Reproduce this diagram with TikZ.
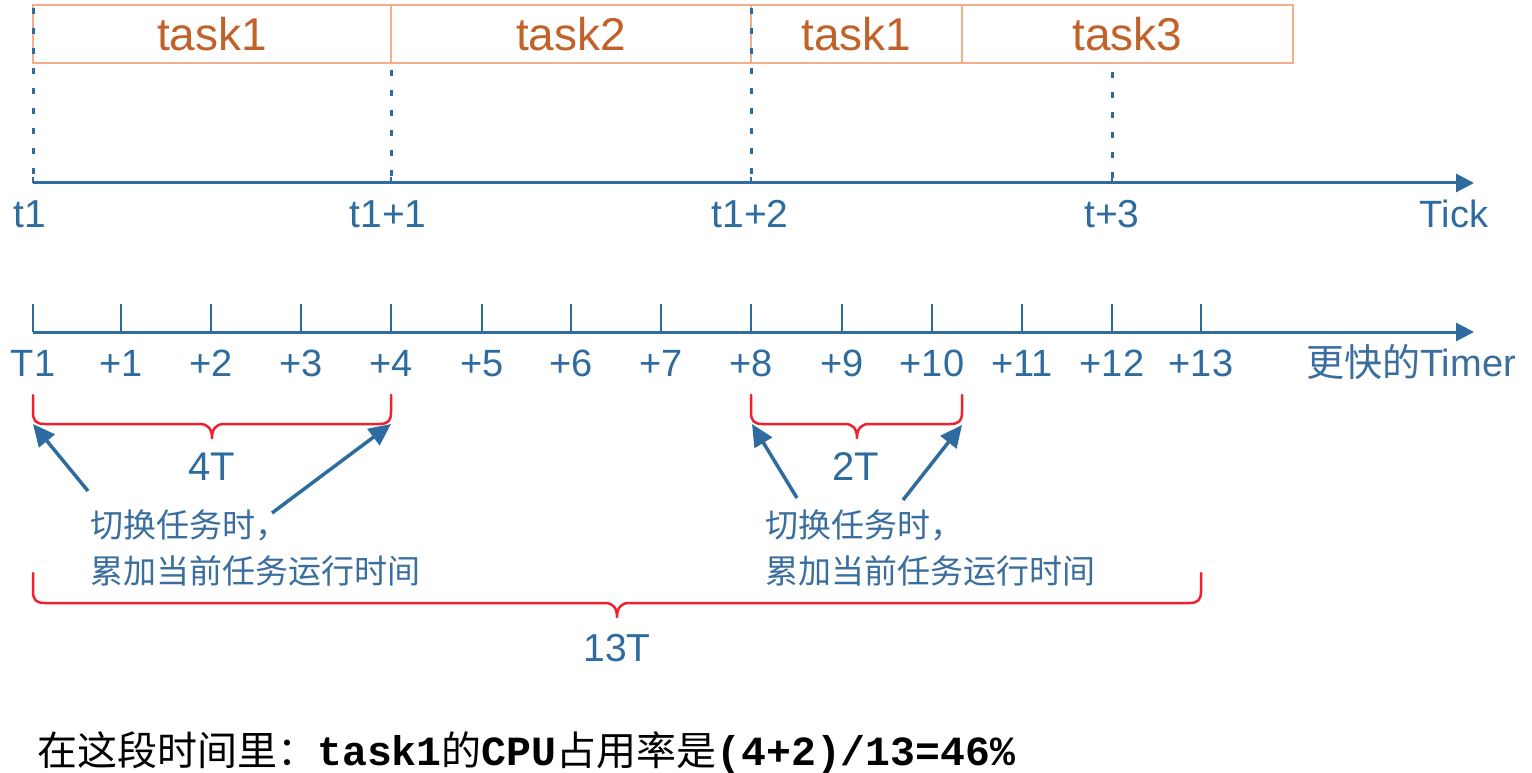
\documentclass[tikz,border=0pt]{standalone}
\usepackage{fontspec}
\setmainfont{Liberation Sans}
\newfontfamily\cjk{Noto Sans CJK SC}
\newfontfamily\monob{Liberation Mono}
\usetikzlibrary{arrows.meta}
\definecolor{axblue}{HTML}{2E6CA0}
\definecolor{notetxt}{HTML}{3A6E9E}
\definecolor{boxline}{HTML}{F4AE8C}
\definecolor{tasktxt}{HTML}{C0622A}
\definecolor{brred}{HTML}{F0202E}
\tikzset{
  taskbox/.style={draw=boxline, line width=2pt, minimum height=58pt, inner sep=0pt,
    text=tasktxt, font=\fontsize{46pt}{50pt}\selectfont},
  vdots/.style={draw=axblue, line width=3pt, dash pattern=on 6pt off 14pt},
  axisline/.style={draw=axblue, line width=3pt, -{Triangle[length=18pt,width=18pt]}},
  tickmark/.style={draw=axblue, line width=2.4pt},
  ticklbl/.style={text=axblue, inner sep=0pt, anchor=base, font=\fontsize{39pt}{42pt}\selectfont},
  timerlbl/.style={text=axblue, inner sep=0pt, anchor=base, font=\fontsize{38pt}{42pt}\selectfont},
  bracepath/.style={draw=brred, line width=2.5pt, line join=round, line cap=round},
  spanlbl/.style={text=axblue, inner sep=0pt, anchor=base, font=\fontsize{40pt}{44pt}\selectfont},
  note/.style={text=notetxt, inner sep=0pt, anchor=base west, font=\cjk\fontsize{33pt}{36pt}\selectfont},
  notearrow/.style={draw=axblue, line width=3.5pt, -{Triangle[length=22pt,width=20pt]}},
}
\begin{document}
\begin{tikzpicture}[x=1pt,y=-1pt]
\useasboundingbox[fill=white] (0,0) rectangle (1532,773);

% task boxes
\node[taskbox, minimum width=358pt] (b1) at (212,34) {task1};
\node[taskbox, minimum width=360pt] (b2) at (571,34) {task2};
\node[taskbox, minimum width=211pt] (b3) at (856.5,34) {task1};
\node[taskbox, minimum width=331pt] (b4) at (1127.5,34) {task3};

% tick axis
\coordinate (ts) at (33,183);
\coordinate (te) at (1474,183);
\draw[vdots] (33,8) -- (33,183);
\draw[vdots] (391,70) -- (391,183);
\draw[vdots] (751,8) -- (751,183);
\draw[vdots] (1112,72) -- (1112,183);
\draw[axisline] (ts) -- (te);
\foreach \x in {33,391,751,1112} \draw[tickmark, line width=1.6pt] (\x,177) -- (\x,183);
\node[ticklbl] (l1) at (30,227) {t1};
\node[ticklbl] (l2) at (388,227) {t1+1};
\node[ticklbl] (l3) at (750,227) {t1+2};
\node[ticklbl] (l4) at (1112,227) {t+3};
\node[ticklbl, font=\fontsize{38pt}{42pt}\selectfont] (l5) at (1454,227) {Tick};

% timer axis
\coordinate (ms) at (33,332);
\coordinate (me) at (1474,332);
\draw[axisline] (ms) -- (me);
\foreach \x/\l [count=\i] in {33/T1,121/+1,211/+2,301/+3,391/+4,482/+5,571/+6,661/+7,751/+8,842/+9,932/+10,1022/+11,1112/+12,1201/+13} {
  \draw[tickmark] (\x,332) -- (\x,304);
  \node[timerlbl] (tm\i) at (\x,376) {\l};
}
\node[timerlbl, text=notetxt] (tmr) at (1411,376) {{\cjk 更快的}Timer};

% braces
\draw[bracepath] (33,395) -- (33,412) .. controls (33,421) and (36,424) .. (45,424) -- (200,424) .. controls (208,424) and (212,429) .. (212,438) .. controls (212,429) and (216,424) .. (224,424) -- (379,424) .. controls (388,424) and (391,421) .. (391,412) -- (391,395);
\draw[bracepath] (751,395) -- (751,412) .. controls (751,421) and (754,424) .. (763,424) -- (845,424) .. controls (853,424) and (857,429) .. (857,438) .. controls (857,429) and (861,424) .. (869,424) -- (950,424) .. controls (959,424) and (962,421) .. (962,412) -- (962,395);
\draw[bracepath] (33,573) -- (33,591) .. controls (33,600) and (36,603) .. (45,603) -- (605,603) .. controls (613,603) and (617,608) .. (617,617) .. controls (617,608) and (621,603) .. (629,603) -- (1189,603) .. controls (1198,603) and (1201,600) .. (1201,591) -- (1201,573);

\node[spanlbl] (s4) at (212,480) {4T};
\node[spanlbl] (s2) at (856,480) {2T};
\node[spanlbl, font=\fontsize{39pt}{42pt}\selectfont] (s13) at (617,661) {13T};

% notes
\node[note] (n1a) at (90,537) {切换任务时，};
\node[note] (n1b) at (90,583) {累加当前任务运行时间};
\node[note] (n2a) at (765,537) {切换任务时，};
\node[note] (n2b) at (765,583) {累加当前任务运行时间};

% arrows
\coordinate (a1s) at (88,491);  \coordinate (a1e) at (33,424);
\coordinate (a2s) at (272,513); \coordinate (a2e) at (391,424);
\coordinate (a3s) at (797,498); \coordinate (a3e) at (752,424);
\coordinate (a4s) at (903,500); \coordinate (a4e) at (962,425);
\draw[notearrow] (a1s) -- (a1e);
\draw[notearrow] (a2s) -- (a2e);
\draw[notearrow] (a3s) -- (a3e);
\draw[notearrow] (a4s) -- (a4e);

% bottom statement
\node[inner sep=0pt, anchor=base west] (stmt) at (37,765)
  {{\cjk\fontsize{40pt}{42pt}\selectfont 在这段时间里：}{\monob\bfseries\fontsize{41.5pt}{42pt}\selectfont task1}{\cjk\fontsize{40pt}{42pt}\selectfont 的}{\monob\bfseries\fontsize{41.5pt}{42pt}\selectfont CPU}{\cjk\fontsize{40pt}{42pt}\selectfont 占用率是}{\monob\bfseries\fontsize{41.5pt}{42pt}\selectfont (4+2)/13=46\%}};
\end{tikzpicture}
\end{document}
